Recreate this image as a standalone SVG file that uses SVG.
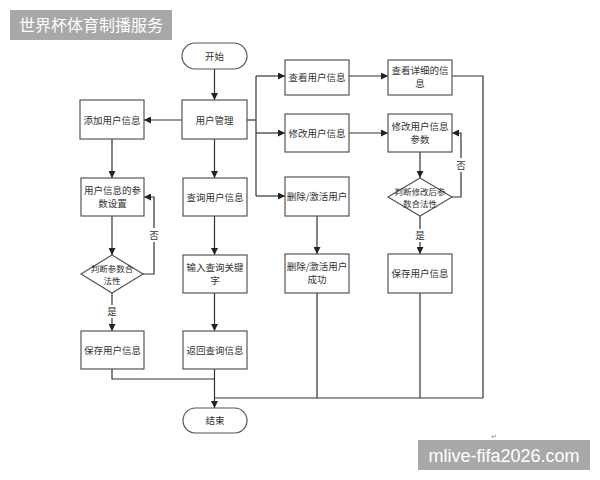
<svg xmlns="http://www.w3.org/2000/svg" width="600" height="480" viewBox="0 0 600 480">
<defs>
<marker id="ah" viewBox="0 0 10 10" refX="10" refY="5" markerWidth="7" markerHeight="7" markerUnits="userSpaceOnUse" orient="auto">
<path d="M0,0 L10,5 L0,10 z" fill="#222"/>
</marker>
</defs>
<style>
.box{fill:#fff;stroke:#555;stroke-width:1.2}
.t{font-family:"Noto Sans CJK SC","Liberation Sans",sans-serif;font-size:9.5px;fill:#333;text-anchor:middle}
.s{font-size:8.5px}
.c{fill:none;stroke:#333;stroke-width:1.2}
.a{marker-end:url(#ah)}
</style>
<rect width="600" height="480" fill="#fff"/>
<g id="title">
<rect x="10" y="10" width="162" height="30" fill="#a8a8a8"/>
<text x="91" y="31" font-family="Noto Sans CJK SC,sans-serif" font-size="16" fill="#fff" text-anchor="middle">世界杯体育制播服务</text>
</g>
<g id="connectors">
<path class="c a" d="M214.5,69 V100"/>
<path class="c a" d="M182,120 H144"/>
<path class="c" d="M247,120 H256"/>
<path class="c" d="M256,76 V196"/>
<path class="c a" d="M256,76 H285"/>
<path class="c a" d="M256,133 H285"/>
<path class="c a" d="M256,196 H285"/>
<path class="c a" d="M349,76 H388"/>
<path class="c a" d="M349,133 H388"/>
<path class="c a" d="M420,152 V178"/>
<path class="c a" d="M452,197 H461 V133 H452"/>
<path class="c a" d="M420,216 V254"/>
<path class="c a" d="M317,216 V254"/>
<path class="c" d="M452,76 H483 V398"/>
<path class="c" d="M317,293 V398"/>
<path class="c" d="M420,293 V398"/>
<path class="c" d="M483,398 H214.5"/>
<path class="c a" d="M112,139 V178"/>
<path class="c a" d="M112,216 V255"/>
<path class="c a" d="M143,274 H154 V197 H144"/>
<path class="c a" d="M112,293 V331"/>
<path class="c" d="M112,369 V379 H214.5"/>
<path class="c a" d="M214.5,139 V178"/>
<path class="c a" d="M214.5,216 V255"/>
<path class="c a" d="M214.5,293 V331"/>
<path class="c a" d="M214.5,369 V408"/>
<rect x="456" y="158" width="10" height="14" fill="#fff"/>
<text class="t" x="461" y="169">否</text>
<rect x="149" y="228" width="10" height="14" fill="#fff"/>
<text class="t" x="154" y="239">否</text>
<rect x="107" y="305" width="10" height="13" fill="#fff"/>
<text class="t" x="112" y="315">是</text>
<rect x="415" y="229" width="10" height="13" fill="#fff"/>
<text class="t" x="420" y="239">是</text>
</g>
<g id="start">
<rect class="box" x="182" y="43" width="65" height="26" rx="13"/>
<text class="t" x="214.5" y="59.5">开始</text>
</g>
<g id="user-mgmt">
<rect class="box" x="182" y="100" width="65" height="39"/>
<text class="t" x="214.5" y="123.5">用户管理</text>
</g>
<g id="add-user">
<rect class="box" x="80" y="100" width="64" height="39"/>
<text class="t" x="112" y="123.5">添加用户信息</text>
</g>
<g id="param-set">
<rect class="box" x="81" y="178" width="63" height="38"/>
<text class="t" x="112.5" y="194">用户信息的参</text>
<text class="t" x="112.5" y="207">数设置</text>
</g>
<g id="check-param">
<polygon class="box" points="112,255 143,274 112,293 81,274"/>
<text class="t s" x="112" y="272">判断参数合</text>
<text class="t s" x="112" y="284">法性</text>
</g>
<g id="save-user-left">
<rect class="box" x="81" y="331" width="63" height="38"/>
<text class="t" x="112.5" y="353.5">保存用户信息</text>
</g>
<g id="query-user">
<rect class="box" x="183" y="178" width="64" height="38"/>
<text class="t" x="215" y="200.5">查询用户信息</text>
</g>
<g id="input-key">
<rect class="box" x="183" y="255" width="64" height="38"/>
<text class="t" x="215" y="271">输入查询关键</text>
<text class="t" x="215" y="284">字</text>
</g>
<g id="return-query">
<rect class="box" x="183" y="331" width="64" height="38"/>
<text class="t" x="215" y="353.5">返回查询信息</text>
</g>
<g id="end">
<rect class="box" x="183" y="408" width="64" height="25" rx="12.5"/>
<text class="t" x="215" y="424">结束</text>
</g>
<g id="view-user">
<rect class="box" x="285" y="60" width="64" height="35"/>
<text class="t" x="317" y="80.5">查看用户信息</text>
</g>
<g id="modify-user">
<rect class="box" x="285" y="114" width="64" height="38"/>
<text class="t" x="317" y="136.5">修改用户信息</text>
</g>
<g id="delete-user">
<rect class="box" x="285" y="177" width="64" height="39"/>
<text class="t" x="317" y="199.5">删除/激活用户</text>
</g>
<g id="delete-ok">
<rect class="box" x="285" y="254" width="64" height="39"/>
<text class="t" x="317" y="270">删除/激活用户</text>
<text class="t" x="317" y="283">成功</text>
</g>
<g id="view-detail">
<rect class="box" x="388" y="60" width="64" height="35"/>
<text class="t" x="420" y="74">查看详细的信</text>
<text class="t" x="420" y="87">息</text>
</g>
<g id="modify-param">
<rect class="box" x="388" y="114" width="64" height="38"/>
<text class="t" x="420" y="130">修改用户信息</text>
<text class="t" x="420" y="143">参数</text>
</g>
<g id="check-modify">
<polygon class="box" points="420,178 452,197 420,216 388,197"/>
<text class="t s" x="420" y="195">判断修改后参</text>
<text class="t s" x="420" y="207">数合法性</text>
</g>
<g id="save-user-right">
<rect class="box" x="388" y="254" width="64" height="39"/>
<text class="t" x="420" y="276.5">保存用户信息</text>
</g>
<text x="494" y="439" font-family="DejaVu Sans,sans-serif" font-size="7" fill="#888" text-anchor="middle">↵</text>
<g id="watermark">
<rect x="418" y="440" width="172" height="30" fill="#a8a8a8"/>
<text x="504" y="461.5" font-family="Liberation Sans,sans-serif" font-size="18" fill="#fff" text-anchor="middle">mlive-fifa2026.com</text>
</g>
</svg>
